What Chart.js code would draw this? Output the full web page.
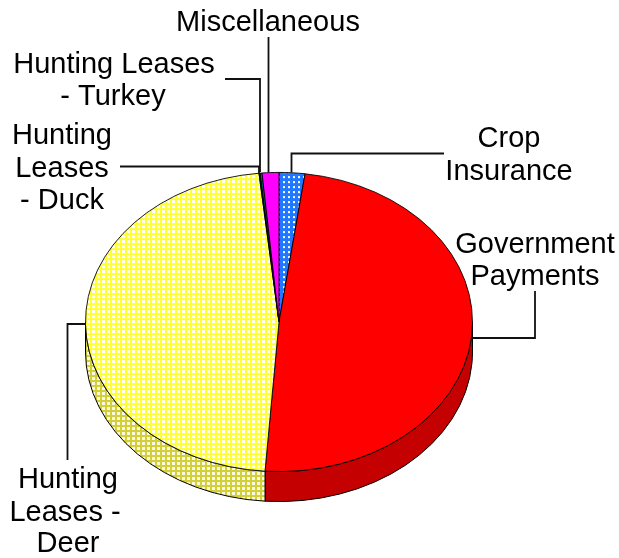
<!DOCTYPE html>
<html>
<head>
<meta charset="utf-8">
<style>
html,body{margin:0;padding:0;background:#fff}
#box{position:relative;width:619px;height:558px}
canvas{display:block}
</style>
<script src="https://cdn.jsdelivr.net/npm/chart.js@4/dist/chart.umd.min.js"></script>
</head>
<body>
<div id="box"><canvas id="c" width="619" height="558"></canvas></div>
<script>
// Data, clockwise from twelve o'clock
const categories = ['Crop Insurance','Government Payments','Hunting Leases - Deer','Hunting Leases - Duck','Hunting Leases - Turkey','Miscellaneous'];
const shares = [2.15, 49.0, 47.2, 0.1, 0.15, 1.4];

const SQUASH = 0.773;   // tilt of the pie
const DEPTH = 30;       // height of the wall

function hatch(bg, fg, period, line){
  const p = document.createElement('canvas');
  p.width = p.height = period;
  const g = p.getContext('2d');
  g.fillStyle = bg; g.fillRect(0,0,period,period);
  g.fillStyle = fg;
  g.fillRect(0,0,line,period);
  g.fillRect(0,0,period,line);
  return g.canvas;
}
const ctx0 = document.getElementById('c').getContext('2d');
function pat(tile, sy){
  const pt = ctx0.createPattern(tile,'repeat');
  if (sy !== 1) pt.setTransform(new DOMMatrix().scale(1, sy));
  return pt;
}
const yellowTile = hatch('#ffffff','#ffff33',5,2);
const blueTile = hatch('#ffffff','#1f78ff',5,3);
const wallTile = hatch('#fafae0','#d2cf38',5,2);

const sliceFill = [pat(blueTile,1/SQUASH), '#ff0000', pat(yellowTile,1/SQUASH), '#000000', '#008080', '#ff00ff'];
const wallFill = [pat(blueTile,1), '#c40000', pat(wallTile,1), '#000000', '#006060', '#c000c0'];

// Text and leader lines of the callouts
const callouts = [
  {lines:[['Miscellaneous',268,31]], path:[[268.5,37],[268.5,172]]},
  {lines:[['Hunting Leases',114,73],['- Turkey',113,105]], path:[[225,79],[260,79],[260,172]]},
  {lines:[['Hunting',62,144],['Leases',62,177],['- Duck',62,209]], path:[[120,166.5],[259,166.5],[259,173]]},
  {lines:[['Crop',509,147],['Insurance',509,180]], path:[[291.5,172],[291.5,153.5],[444,153.5]]},
  {lines:[['Government',535,253],['Payments',535,285]], path:[[472,338],[535,338],[535,291]]},
  {lines:[['Hunting',68,488],['Leases -',65,521],['Deer',68,552]], path:[[85,324],[67.5,324],[67.5,460]]}
];

const tilt = {
  id:'tilt',
  beforeDatasetsDraw(chart){
    const ctx = chart.ctx, arcs = chart.getDatasetMeta(0).data;
    const a = arcs[0], cx = a.x, cy = a.y, rx = a.outerRadius, ry = rx*SQUASH;
    ctx.save();
    ctx.lineWidth = 1; ctx.strokeStyle = '#000';
    arcs.forEach((el,i)=>{
      const s = Math.max(el.startAngle,0), e = Math.min(el.endAngle,Math.PI);
      if (e <= s) return;
      ctx.beginPath();
      ctx.ellipse(cx,cy,rx,ry,0,s,e);
      ctx.ellipse(cx,cy+DEPTH,rx,ry,0,e,s,true);
      ctx.closePath();
      ctx.fillStyle = wallFill[i];
      ctx.fill();
      ctx.stroke();
    });
    ctx.restore();
    ctx.save();
    ctx.translate(cx,cy); ctx.scale(1,SQUASH); ctx.translate(-cx,-cy);
  },
  afterDatasetsDraw(chart){
    const ctx = chart.ctx;
    ctx.restore();
    ctx.save();
    ctx.strokeStyle = '#111'; ctx.lineWidth = 1.8; ctx.lineJoin = 'miter';
    ctx.fillStyle = '#000'; ctx.font = '29px "Liberation Sans", Arial, sans-serif';
    ctx.textAlign = 'center'; ctx.textBaseline = 'alphabetic';
    callouts.forEach(c=>{
      ctx.beginPath();
      c.path.forEach((p,i)=> i ? ctx.lineTo(p[0],p[1]) : ctx.moveTo(p[0],p[1]));
      ctx.stroke();
      c.lines.forEach(l=>ctx.fillText(l[0],l[1],l[2]));
    });
    ctx.restore();
  }
};

new Chart(ctx0,{
  type:'pie',
  data:{labels:categories,datasets:[{data:shares,backgroundColor:sliceFill,borderColor:'#000',borderWidth:1}]},
  options:{
    responsive:false,animation:false,rotation:0,
    layout:{padding:{left:85,right:146,top:86,bottom:0}},
    plugins:{legend:{display:false},tooltip:{enabled:false},title:{display:false}}
  },
  plugins:[tilt]
});
</script>
</body>
</html>
